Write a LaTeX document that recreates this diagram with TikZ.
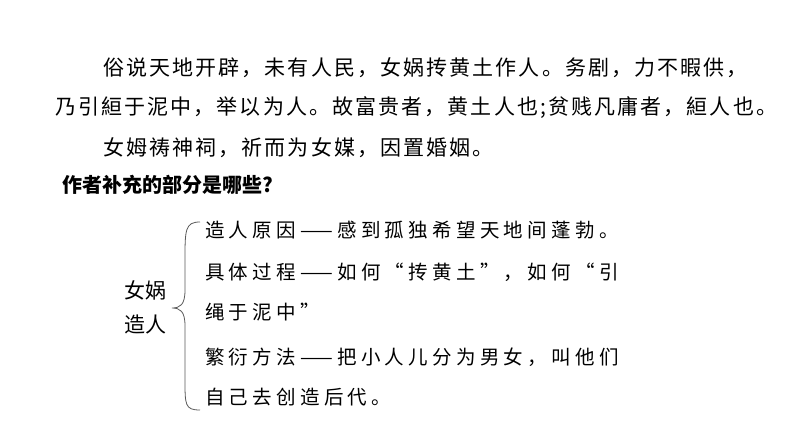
\documentclass[tikz,border=0pt]{standalone}
\usepackage{fontspec}
\setmainfont{Noto Sans CJK SC}
\begin{document}
\begin{tikzpicture}[x=1pt,y=-1pt,
  txt/.style={anchor=west,inner sep=0pt,font=\fontsize{21}{24}\selectfont\addfontfeature{LetterSpace=10}},
  itm/.style={anchor=west,inner sep=0pt,font=\fontsize{19.5}{23}\selectfont\addfontfeature{LetterSpace=22}}]
\useasboundingbox[fill=white] (0,0) rectangle (794,447);
\node[txt] (l1) at (103,68) {俗说天地开辟，未有人民，女娲抟黄土作人。务剧，力不暇供，};
\node[txt] (l2) at (55,108) {乃引絙于泥中，举以为人。故富贵者，黄土人也;贫贱凡庸者，絙人也。};
\node[txt] (l3) at (103,148) {女姆祷神祠，祈而为女媒，因置婚姻。};
\node[anchor=west,inner sep=0pt,font=\fontsize{20}{24}\selectfont\bfseries] (q) at (62,185) {作者补充的部分是哪些?};
\node[inner sep=0pt,font=\fontsize{21}{34}\selectfont,align=center] (t) at (145,307) {女娲\\造人};
\draw[line width=0.8pt,gray!70!black] (200,222) .. controls (185,222) and (185,230) .. (185,260)
  -- (185,290) .. controls (185,305) and (180,308) .. (172,308)
  .. controls (180,308) and (185,311) .. (185,326) -- (185,380)
  .. controls (185,405) and (185,410) .. (200,410);
\node[itm] (a) at (205,230) {造人原因——感到孤独希望天地间蓬勃。};
\node[itm] (b) at (205,272) {具体过程——如何“抟黄土”，如何“引};
\node[itm] (b2) at (205,312) {绳于泥中”};
\node[itm] (c) at (205,357) {繁衍方法——把小人儿分为男女，叫他们};
\node[itm] (c2) at (205,397) {自己去创造后代。};
\end{tikzpicture}
\end{document}
